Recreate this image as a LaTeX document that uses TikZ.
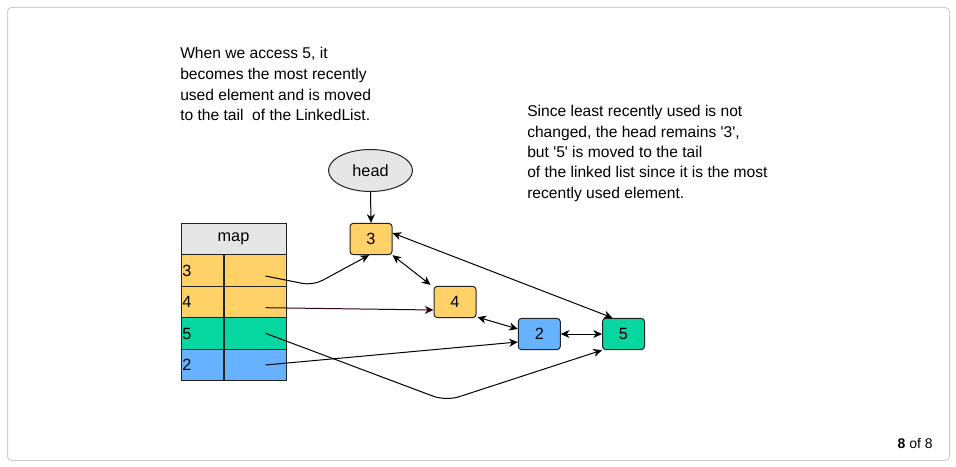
\documentclass[tikz,border=0pt]{standalone}
\usepackage{fontspec}
\setmainfont{Liberation Sans}
\usetikzlibrary{arrows.meta,shapes.geometric,calc}
\definecolor{orng}{HTML}{FFD166}
\definecolor{grn}{HTML}{06D6A0}
\definecolor{blu}{HTML}{66B2FF}
\definecolor{lgry}{HTML}{E6E6E6}
\definecolor{frm}{HTML}{CFCFCF}
\definecolor{maroon}{RGB}{51,0,26}
\definecolor{edge}{HTML}{222222}
\tikzset{
  px/.style={x=0.75pt,y=-0.75pt},
  note/.style={anchor=base west,inner sep=0pt,font=\fontsize{11.7}{14}\selectfont},
  lnode/.style={draw=edge,line width=0.75pt,rounded corners=2.5pt,minimum width=31.5pt,minimum height=23.5pt,inner sep=0pt,font=\fontsize{12.2}{14}\selectfont},
  keycell/.style={draw=edge,line width=0.75pt,minimum width=31.5pt,minimum height=23.6pt,text width=29.5pt,align=left,inner xsep=1pt,inner ysep=0pt,font=\fontsize{12.2}{14}\selectfont},
  valcell/.style={draw=edge,line width=0.75pt,minimum width=47.25pt,minimum height=23.6pt,inner sep=0pt},
  conn/.style={line width=0.75pt,black},
  tip/.style={-{Stealth[length=6.5pt,width=6pt,inset=2pt]}},
  tips/.style={{Stealth[length=6.5pt,width=6pt,inset=2pt]}-{Stealth[length=6.5pt,width=6pt,inset=2pt]}}
}
\newcommand{\sq}{\textquotesingle}
\begin{document}
\begin{tikzpicture}[px]
\useasboundingbox (0,0) rectangle (956,467);
\draw[frm,line width=0.75pt,rounded corners=3pt] (7.5,7.5) rectangle (949.5,460.5);

% notes
\node[note] (t1) at (180,59) {When we access 5, it};
\node[note] (t2) at (180,79.5) {becomes the most recently};
\node[note] (t3) at (180,100) {used element and is moved};
\node[note] (t4) at (180,120.5) {to the tail\ \ of the LinkedList.};
\node[note] (s1) at (527,116.7) {Since least recently used is not};
\node[note] (s2) at (527,137.1) {changed, the head remains \sq3\sq,};
\node[note] (s3) at (527,157.5) {but \sq5\sq\ is moved to the tail};
\node[note] (s4) at (527,177.9) {of the linked list since it is the most};
\node[note] (s5) at (527,198.3) {recently used element.};

% map table
\node[draw=edge,line width=0.75pt,fill=lgry,minimum width=78.75pt,minimum height=23.6pt,inner sep=0pt,font=\fontsize{12.2}{14}\selectfont] (maphead) at (233.5,239) {map};
\node[keycell,fill=orng] (k3) at (202,270.5) {3};
\node[valcell,fill=orng] (v3) at (254.5,270.5) {};
\node[keycell,fill=orng] (k4) at (202,302) {4};
\node[valcell,fill=orng] (v4) at (254.5,302) {};
\node[keycell,fill=grn] (k5) at (202,333.5) {5};
\node[valcell,fill=grn] (v5) at (254.5,333.5) {};
\node[keycell,fill=blu] (k2) at (202,365) {2};
\node[valcell,fill=blu] (v2) at (254.5,365) {};
\draw[line width=1.5pt,edge] (k3.north east) -- (k2.south east);

% list nodes
\node[ellipse,draw=edge,line width=0.75pt,fill=lgry,minimum width=63pt,minimum height=31.5pt,inner sep=0pt,font=\fontsize{12.2}{14}\selectfont] (head) at (370.5,170.5) {head};
\node[lnode,fill=orng] (n3) at (371,239) {3};
\node[lnode,fill=orng] (n4) at (455,302) {4};
\node[lnode,fill=blu] (n2) at (539.3,334) {2};
\node[lnode,fill=grn] (n5) at (623.5,334) {5};

% start points in map
\coordinate (r3) at (265.5,276);
\coordinate (r4) at (265.5,307.7);
\coordinate (r5) at (265.5,333.3);
\coordinate (r2) at (265.5,365);
\coordinate (b3) at (313,285.5);
\coordinate (b5) at (446,401);

% connectors
\draw[conn,tip] (head.south) -- (n3.north);
\draw[conn,tip,rounded corners=8pt] (r3) -- (b3) -- ($(n3.south)+(-2,0)$);
\draw[line width=0.75pt,maroon,tip] (r4) -- ($(n4.west)+(0,8)$);
\draw[conn,tip,rounded corners=10pt] (r5) -- (b5) -- (n5.south west);
\draw[conn,tip] (r2) -- ($(n2.west)+(0,8)$);
\draw[conn,tips] (n3.south east) -- ($(n4.north west)+(-3,-1)$);
\draw[conn,tips] ($(n3.east)+(0,-6)$) -- ($(n5.north)+(-11,0)$);
\draw[conn,tips] ($(n4.south east)+(1,-1)$) -- ($(n2.west)+(0,-5)$);
\draw[conn,tips] (n2.east) -- (n5.west);

\node[anchor=base east,inner sep=0pt,font=\fontsize{10.5}{12}\selectfont] (pg) at (933,448.5) {\textbf{8} of 8};
\end{tikzpicture}
\end{document}
